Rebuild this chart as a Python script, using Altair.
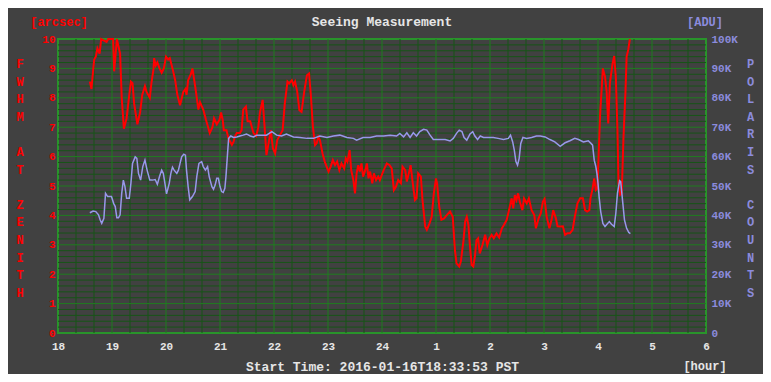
import altair as alt
import pandas as pd

# ---------------- data ----------------
fwhm_hour = [18.59, 18.62, 18.64, 18.67, 18.70, 18.73, 18.77, 18.80, 18.90, 18.93, 19.02, 19.04, 19.09, 19.15,
             19.18, 19.22, 19.27, 19.32, 19.35, 19.38, 19.41, 19.47, 19.52, 19.56, 19.61, 19.64, 19.70, 19.73,
             19.77, 19.78, 19.81, 19.84, 19.88, 19.92, 19.96, 20.00, 20.04, 20.07, 20.12, 20.17, 20.21, 20.26,
             20.32, 20.36, 20.38, 20.41, 20.46, 20.49, 20.54, 20.57, 20.60, 20.63, 20.69, 20.74, 20.78, 20.81,
             20.86, 20.89, 20.94, 20.99, 21.02, 21.05, 21.07, 21.12, 21.16, 21.22, 21.25, 21.28, 21.31, 21.37,
             21.40, 21.43, 21.48, 21.51, 21.56, 21.59, 21.62, 21.67, 21.71, 21.74,
             21.79, 21.83, 21.86, 21.90, 21.94, 21.98, 22.02, 22.06, 22.11, 22.16, 22.20, 22.25, 22.28, 22.33,
             22.36, 22.39, 22.43, 22.47, 22.51, 22.56, 22.61, 22.65, 22.68, 22.72, 22.76, 22.79, 22.82, 22.85,
             22.90, 22.94, 23.01, 23.05, 23.09, 23.13, 23.17, 23.21, 23.25, 23.30, 23.33, 23.36, 23.40, 23.43,
             23.47, 23.50, 23.53, 23.56, 23.59, 23.62, 23.65, 23.69, 23.72, 23.75, 23.78, 23.82, 23.85, 23.89,
             23.93,
             23.96, 24.03, 24.09, 24.14, 24.18, 24.22, 24.26, 24.30, 24.35, 24.38, 24.43, 24.46, 24.51, 24.53,
             24.57, 24.61, 24.64, 24.67, 24.72, 24.75, 24.80, 24.83, 24.88, 24.92, 24.96, 25.00, 25.02, 25.06,
             25.10, 25.15, 25.20, 25.26, 25.31, 25.35, 25.38, 25.43, 25.46, 25.51, 25.54, 25.57, 25.60, 25.63,
             25.66, 25.69, 25.72, 25.75, 25.78, 25.81, 25.86, 25.91, 25.95, 25.99, 26.03, 26.07, 26.12, 26.17,
             26.22, 26.26, 26.31, 26.36, 26.40, 26.43, 26.46, 26.49, 26.52, 26.56, 26.60, 26.63, 26.68, 26.72,
             26.77, 26.82, 26.85, 26.90, 26.94, 26.98, 27.01, 27.05, 27.10, 27.14, 27.17, 27.22, 27.25, 27.30,
             27.35, 27.39, 27.43, 27.48, 27.53, 27.57, 27.62, 27.67, 27.72, 27.76, 27.80, 27.84, 27.86, 27.90,
             27.93, 27.96, 27.99,
             28.01, 28.04, 28.07, 28.09, 28.13, 28.16, 28.19, 28.22, 28.27, 28.30, 28.33, 28.36, 28.38, 28.41,
             28.44, 28.47, 28.51, 28.53, 28.56, 28.59]
fwhm_arcsec = [8.55, 8.30, 8.72, 9.30, 9.40, 9.68, 9.50, 10.0, 9.90, 10.0, 10.0, 8.90, 10.0, 9.50,
               8.00, 6.95, 7.30, 8.10, 8.55, 8.50, 7.80, 7.10, 7.50, 8.10, 8.40, 8.20, 8.00, 8.50,
               9.00, 9.35, 9.10, 9.20, 9.00, 8.85, 9.00, 9.40, 9.30, 9.35, 9.00, 8.60, 8.10, 7.75,
               8.20, 8.30, 8.10, 8.60, 8.80, 9.00, 8.40, 8.00, 7.60, 7.85, 7.60, 7.25, 7.00, 6.80,
               7.00, 7.30, 7.10, 7.25, 7.50, 7.25, 6.90, 6.90, 6.60, 6.40, 6.50, 6.70, 6.80, 6.80,
               6.90, 7.60, 7.70, 7.20, 7.20, 7.00, 6.80, 6.70, 7.00, 7.50,
               7.93, 6.90, 6.05, 6.45, 6.90, 6.28, 6.10, 6.56, 6.73, 6.90, 7.81, 8.55, 8.49, 8.60,
               8.43, 8.55, 8.21, 7.58, 7.52, 8.21, 8.77, 8.83, 8.15, 7.02, 6.39, 6.45, 6.67, 6.56,
               6.10, 5.83, 5.49, 5.66, 5.88, 5.71, 5.83, 5.54, 5.77, 5.60, 5.94, 5.83, 6.22, 5.54,
               5.20, 4.75, 5.43, 5.71, 5.49, 5.77, 5.32, 5.54, 5.77, 5.26, 5.49, 5.09, 5.43, 5.20,
               5.32,
               5.20, 5.54, 5.77, 5.71, 5.60, 4.86, 4.98, 5.20, 5.09, 5.66, 5.54, 5.15, 5.54, 5.71,
               5.09, 4.52, 4.58, 5.43, 5.32, 4.52, 3.62, 3.51, 3.73, 3.95, 4.75, 5.26, 5.09, 4.30,
               3.85, 3.90, 4.01, 4.13, 3.95, 2.83, 2.37, 2.26, 2.43, 3.16, 3.79, 3.95, 3.68, 2.94,
               2.31, 2.26, 2.60, 3.16, 3.22, 2.71, 2.99, 3.34, 2.99, 3.22, 3.34, 3.22, 3.39, 3.25,
               3.56, 3.68, 3.85, 4.24, 4.58, 4.24, 4.69, 4.52, 4.75, 4.41, 4.18, 4.58, 4.41, 4.58,
               4.18, 4.01, 3.56, 3.90, 4.07, 4.47, 4.56, 3.95, 3.56, 3.85, 4.18, 3.90, 3.63, 3.62,
               3.63, 3.34, 3.39, 3.39, 3.51, 3.95, 4.41, 4.58, 4.58, 4.18, 4.13, 4.18, 4.58, 4.92,
               5.26, 4.86, 4.92,
               5.99, 7.47, 8.38, 9.00, 8.72, 8.21, 7.13, 8.49, 9.17, 9.42, 8.72, 6.90, 5.09, 4.70,
               4.75, 6.56, 8.27, 9.40, 9.63, 10.0]

polaris_hour = [18.59, 18.65, 18.70, 18.75, 18.78, 18.81, 18.85, 18.88, 18.92, 18.96, 18.99, 19.03, 19.06, 19.09,
                19.12, 19.15, 19.18, 19.21, 19.24, 19.27, 19.32, 19.35, 19.38, 19.43, 19.46, 19.49, 19.53, 19.57,
                19.61, 19.65, 19.70, 19.75, 19.80, 19.84, 19.88, 19.92, 19.95, 19.98, 20.01, 20.06, 20.09, 20.12,
                20.15, 20.20, 20.23, 20.26, 20.29, 20.33, 20.36, 20.38, 20.41, 20.44, 20.49, 20.54, 20.57, 20.61,
                20.66, 20.69, 20.73, 20.77, 20.80, 20.85, 20.88, 20.91, 20.94, 20.97, 21.00, 21.03, 21.06, 21.09,
                21.11, 21.14, 21.16, 21.20, 21.25, 21.31, 21.37, 21.43, 21.49, 21.56, 21.62, 21.68,
                21.74, 21.86, 21.96, 22.05, 22.14, 22.23, 22.36, 22.48, 22.61, 22.73, 22.85, 22.98, 23.10, 23.22,
                23.35, 23.47, 23.53, 23.65, 23.78, 23.90, 24.03, 24.15, 24.27, 24.33, 24.40, 24.46, 24.52, 24.58,
                24.64, 24.70, 24.77, 24.83, 24.89, 24.95, 25.04, 25.17, 25.26, 25.32, 25.38, 25.43, 25.48, 25.52,
                25.57, 25.63, 25.68, 25.72, 25.77,
                25.82, 25.88, 25.97, 26.06, 26.15, 26.25, 26.34, 26.38, 26.42, 26.45, 26.48, 26.51, 26.54, 26.57,
                26.61, 26.68, 26.77, 26.86, 26.93, 27.02, 27.11, 27.20, 27.30, 27.39, 27.48, 27.57, 27.64, 27.73,
                27.82, 27.87, 27.90, 27.93, 27.96, 27.98, 28.00, 28.02, 28.05, 28.09, 28.13, 28.17, 28.21, 28.25,
                28.30, 28.33, 28.36, 28.40, 28.42, 28.46, 28.49, 28.53, 28.57, 28.60]
polaris_adu = [40900, 41500, 41300, 40200, 38500, 37300, 39000, 47500, 46400, 46400, 46400, 44100, 43000, 39200,
               39200, 40200, 47500, 52000, 49800, 45800, 45800, 50900, 57700, 59900, 59400, 54300, 52000, 56600,
               58800, 55400, 52000, 52000, 52200, 50600, 53200, 55400, 54300, 50900, 47300, 50900, 54300, 56400,
               55400, 54300, 55400, 57700, 59900, 60800, 60500, 55400, 49800, 45300, 46400, 48100, 53200, 57700,
               58300, 56600, 55400, 56600, 53200, 49800, 48900, 50300, 52600, 52600, 49800, 48100, 47800, 49200,
               53200, 61100, 66200, 67000, 66500, 66700, 67000, 67300, 67700, 67000, 66700, 67300,
               67300, 67300, 68500, 67300, 67000, 67700, 66700, 66500, 66200, 66200, 67000, 66500, 67000, 67300,
               66500, 66200, 65600, 66500, 66500, 67000, 67000, 67300, 67000, 67900, 66700, 68100, 66500, 68100,
               67000, 68500, 69300, 69000, 67300, 65800, 65800, 65800, 65300, 66200, 67900, 69000, 68500, 66500,
               65600, 67700, 68500, 67000, 65800,
               67000, 66500, 66500, 66500, 66200, 65800, 66200, 67300, 65000, 62200, 58300, 57100, 59400, 64500,
               66500, 66200, 66500, 67000, 67000, 66700, 65800, 65000, 63500, 64700, 65400, 66200, 65800, 65000,
               65400, 64500, 63900, 58800, 56600, 54300, 50900, 46400, 41300, 37300, 36200, 37100, 37900, 37000,
               36200, 40700, 47500, 51800, 51500, 44100, 38500, 35600, 34200, 33800]

left_title = "FWHM AT ZENITH"
right_title = "POLARIS COUNTS"
x_ticks = list(range(18, 31))
left_ticks = list(range(0, 11))
right_ticks = list(range(0, 100001, 10000))

# ---------------- style ----------------
BG = "#414141"
MAJOR = "#1f7d1f"
MINOR = "#175417"
FRAME = "#29942b"
RED = "#ff0000"
BLUE = "#9898ea"
BLUE_TXT = "#8b8bdc"
WHITE = "#e6e6e6"
FONT = "Liberation Mono"

W, H = 648, 294

xs = alt.Scale(domain=[18, 30], nice=False, zero=False)
ys = alt.Scale(domain=[0, 10], nice=False)
yr = alt.Scale(domain=[0, 100000], nice=False)
# vertical stacked-letter titles: one row per character
ls = alt.Scale(domain=[0, 13], range=[25, 253.7])

major_x = list(range(19, 30))
minor_x = [18 + k / 3 for k in range(1, 36) if k % 3 != 0]
major_y = list(range(1, 10))
minor_y = [k / 5 for k in range(1, 50) if k % 5 != 0]

df_f = pd.DataFrame({"hour": fwhm_hour, "fwhm": fwhm_arcsec})
df_p = pd.DataFrame({"hour": polaris_hour, "adu": polaris_adu})
one = pd.DataFrame({"a": [0]})
df_lt = pd.DataFrame({"ch": list(left_title), "i": list(range(len(left_title)))})
df_rt = pd.DataFrame({"ch": list(right_title), "i": list(range(len(right_title)))})

XT = "Start Time: 2016-01-16T18:33:53 PST"
x_axis = alt.Axis(values=x_ticks,
                  labelExpr="datum.value > 24 ? '' + (datum.value - 24) : '' + datum.value",
                  grid=False, domain=False, ticks=False, labelFlush=False, labelPadding=7,
                  labelColor=WHITE, labelFont=FONT, labelFontSize=11, labelFontWeight="bold",
                  title=XT, titleColor=WHITE, titleFont=FONT,
                  titleFontSize=13, titleFontWeight="bold", titleX=W / 2, titleY=33,
                  titleAlign="center", titleBaseline="middle", titleAnchor="start")

minor_v = alt.Chart(pd.DataFrame({"x": minor_x})).mark_rule(color=MINOR, strokeWidth=1).encode(
    x=alt.X("x:Q", scale=xs, axis=x_axis, title=XT))
minor_h = alt.Chart(pd.DataFrame({"y": minor_y})).mark_rule(color=MINOR, strokeWidth=1).encode(
    y=alt.Y("y:Q", scale=ys, axis=None))
major_v = alt.Chart(pd.DataFrame({"x": major_x})).mark_rule(color=MAJOR, strokeWidth=1).encode(
    x=alt.X("x:Q", scale=xs, axis=x_axis, title=XT))
major_h = alt.Chart(pd.DataFrame({"y": major_y})).mark_rule(color=MAJOR, strokeWidth=1).encode(
    y=alt.Y("y:Q", scale=ys, axis=None))

left_axis = alt.Axis(orient="left", values=left_ticks, grid=False, domain=False, ticks=False,
                     labelFlush=False, labelPadding=3, labelColor=RED, labelFont=FONT,
                     labelFontSize=11, labelFontWeight="bold", title=None)

right_axis = alt.Axis(orient="right", values=right_ticks, grid=False, domain=False, ticks=False,
                      labelFlush=False, labelPadding=5, labelColor=BLUE_TXT, labelFont=FONT,
                      labelFontSize=11, labelFontWeight="bold", title=None,
                      labelExpr="datum.value == 0 ? '0' : (datum.value / 1000) + 'K'")

red = alt.Chart(df_f).mark_line(color=RED, strokeWidth=2).encode(
    x=alt.X("hour:Q", scale=xs, axis=x_axis, title=XT),
    y=alt.Y("fwhm:Q", scale=ys, axis=left_axis))

blue = alt.Chart(df_p).mark_line(color=BLUE, strokeWidth=1.5).encode(
    x=alt.X("hour:Q", scale=xs, axis=x_axis, title=XT),
    y=alt.Y("adu:Q", scale=yr, axis=right_axis))


def label(text, x, y, color, size=12):
    return alt.Chart(one).mark_text(font=FONT, fontSize=size, fontWeight="bold", color=color,
                                    align="center", baseline="middle").encode(
        x=alt.value(x), y=alt.value(y), text=alt.value(text))


def vertical(df, x, color):
    return alt.Chart(df).mark_text(font=FONT, fontSize=12, fontWeight="bold", color=color,
                                   align="center", baseline="middle").encode(
        x=alt.value(x), y=alt.Y("i:Q", scale=ls, axis=None), text="ch:N")


title = label("Seeing Measurement", W / 2, -17, WHITE, 13)
arcsec = label("[arcsec]", 1, -17, RED, 12)
adu = label("[ADU]", W - 1, -17, BLUE_TXT, 12)
hour = label("[hour]", W - 1, 327, WHITE, 12)
left_letters = vertical(df_lt, -38, RED)
right_letters = vertical(df_rt, 692.5, BLUE_TXT)

chart = alt.layer(
    minor_v, minor_h, major_v, major_h, red, blue,
    title, arcsec, adu, hour, left_letters, right_letters
).resolve_scale(y="independent").properties(
    width=W, height=H,
    autosize=alt.AutoSizeParams(type="none"),
    padding={"left": 50, "top": 31, "right": 57, "bottom": 41},
    background=BG,
).configure_view(fill=BG, stroke=FRAME, strokeWidth=2)

chart.save("out.html", embed_options={"renderer": "svg", "actions": False})
